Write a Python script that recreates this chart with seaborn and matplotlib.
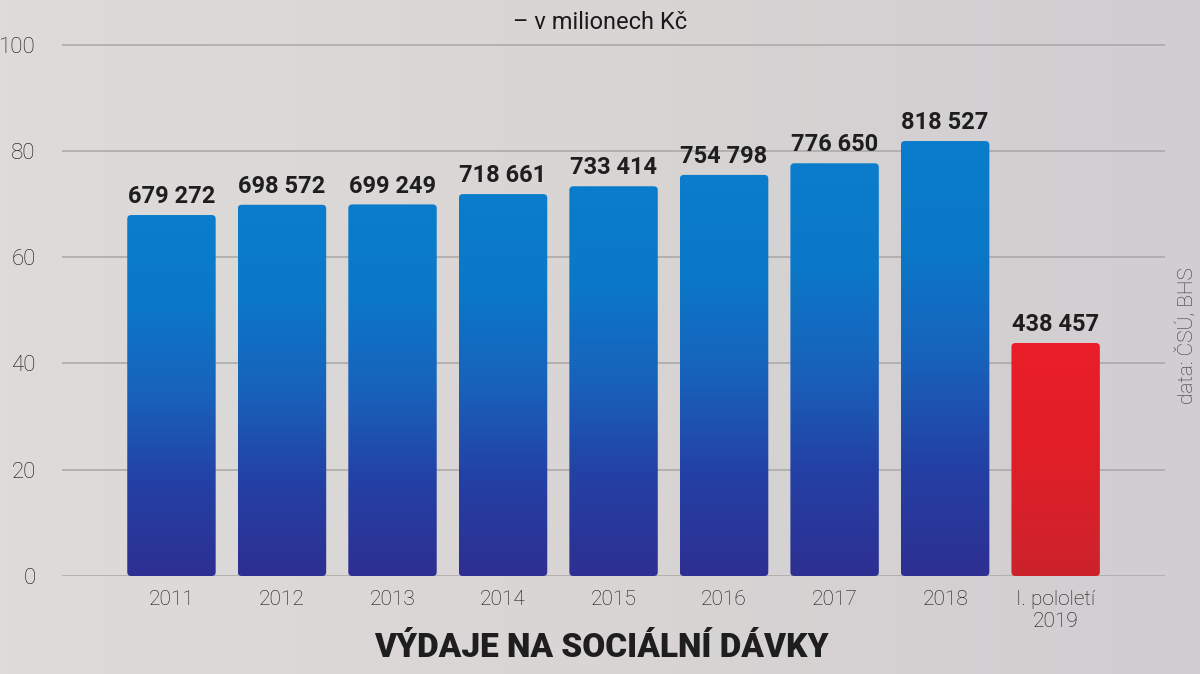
import numpy as np
import pandas as pd
import seaborn as sns
import matplotlib.pyplot as plt
from matplotlib.patches import FancyBboxPatch
from matplotlib.colors import LinearSegmentedColormap

# data (v milionech Kč)
labels = ["2011", "2012", "2013", "2014", "2015", "2016", "2017", "2018", "I. pololetí\n2019"]
values = [679272, 698572, 699249, 718661, 733414, 754798, 776650, 818527, 438457]
value_text = ["679 272", "698 572", "699 249", "718 661", "733 414",
              "754 798", "776 650", "818 527", "438 457"]
is_half = [False] * 8 + [True]

df = pd.DataFrame({"label": labels, "value": np.array(values) / 10000})

sns.set_style("white")
plt.rcParams["font.family"] = ["Roboto", "DejaVu Sans"]

fig = plt.figure(figsize=(12, 6.74), dpi=100)

# background gradient
bg = fig.add_axes([0, 0, 1, 1], zorder=-10)
grad = np.linspace(0, 1, 256).reshape(1, -1)
bg_cmap = LinearSegmentedColormap.from_list("bg", ["#dedcda", "#d8d5d4", "#d1cdd1"])
bg.imshow(grad, aspect="auto", cmap=bg_cmap, extent=[0, 1, 0, 1])
bg.axis("off")

ax = fig.add_axes([0.0517, 0.1454, 0.9192, 0.7908])
ax.patch.set_alpha(0)

sns.barplot(data=df, x="label", y="value", width=0.8, color="#1f5fb8", ax=ax, zorder=3)

blue_cmap = LinearSegmentedColormap.from_list(
    "blue", ["#2e2f92", "#2440a4", "#1862bb", "#0b78c8", "#0a7dcc"])
red_cmap = LinearSegmentedColormap.from_list("red", ["#cc232c", "#e01f28", "#ea1e28"])
vgrad = np.linspace(0, 1, 256).reshape(-1, 1)

ax.set_xlim(-0.99, 8.99)
ax.set_ylim(0, 100.3)

x_px = 1103 / 9.98
y_px = 533 / 100.3
for patch, half, txt in zip(ax.patches, is_half, value_text):
    x0, y0 = patch.get_x(), patch.get_y()
    w, h = patch.get_width(), patch.get_height()
    patch.set_visible(False)
    rr = FancyBboxPatch((x0, y0), w, h,
                        boxstyle="round,pad=0,rounding_size=%f" % (4 / x_px),
                        mutation_aspect=x_px / y_px,
                        facecolor="none", edgecolor="none", zorder=3)
    ax.add_patch(rr)
    im = ax.imshow(vgrad, aspect="auto", cmap=red_cmap if half else blue_cmap,
                   extent=[x0, x0 + w, y0, y0 + h], origin="lower", zorder=3)
    im.set_clip_path(rr)
    ax.text(x0 + w / 2, y0 + h + 1.3, txt, ha="center", va="bottom",
            fontsize=17, fontweight="bold", color="#1e1e1e", zorder=4)

ax.set_yticks(range(0, 101, 20))
ax.yaxis.grid(True, color="#a9a6a6", linewidth=1.1, zorder=0)
ax.set_axisbelow(True)
sns.despine(ax=ax, left=True, bottom=True, right=True, top=True)
ax.tick_params(axis="both", length=0)
ax.tick_params(axis="y", pad=19, labelsize=16, labelcolor="#111111")
ax.tick_params(axis="x", pad=10, labelsize=15, labelcolor="#111111")
for t in ax.get_yticklabels() + ax.get_xticklabels():
    t.set_fontweight("light")
ax.set_xlabel("")
ax.set_ylabel("")

fig.text(0.5, 0.967, "– v milionech Kč", ha="center", va="center",
         fontsize=17, color="#1a1a1a")
fig.text(0.501, 0.038, "VÝDAJE NA SOCIÁLNÍ DÁVKY", ha="center", va="center",
         fontsize=24, fontweight="black", color="#1e1e1e")
fig.text(0.989, 0.5015, "data: ČSÚ, BHS", ha="center", va="center", rotation=90,
         fontsize=15, fontweight="light", color="#333333")

fig.savefig("out.png", dpi=100)
